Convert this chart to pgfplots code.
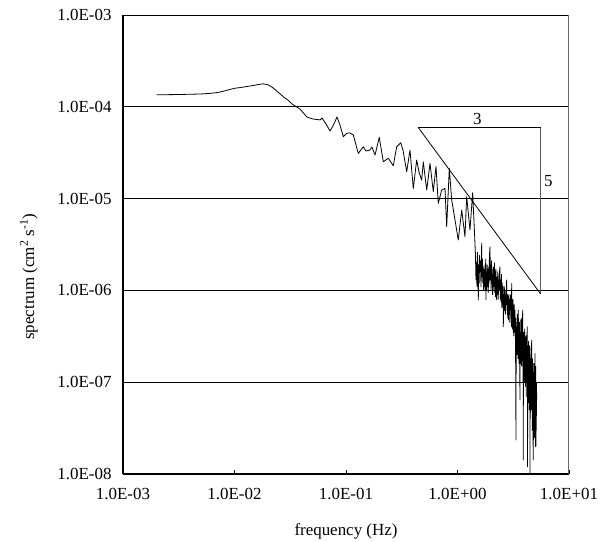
\documentclass[border=0pt]{standalone}
\usepackage{fontspec}
\setmainfont{Liberation Serif}
\usepackage{pgfplots}
\pgfplotsset{compat=1.18}
\begin{document}
\begin{tikzpicture}
\path[use as bounding box] (-123bp,-68bp) rectangle (487bp,474bp);
\begin{axis}[
  scale only axis,
  width=446bp, height=459bp,
  xmode=log, ymode=log,
  xmin=1e-3, xmax=1e1, ymin=1e-8, ymax=1e-3,
  axis x line*=bottom, axis y line*=left,
  axis line style={black, line width=1.1bp},
  xtick={1e-3,1e-2,1e-1,1e0,1e1},
  xticklabels={1.0E-03,1.0E-02,1.0E-01,1.0E+00,1.0E+01},
  ytick={1e-8,1e-7,1e-6,1e-5,1e-4,1e-3},
  yticklabels={1.0E-08,1.0E-07,1.0E-06,1.0E-05,1.0E-04,1.0E-03},
  xminorticks=false, yminorticks=false,
  log ticks with fixed point=false,
  tick align=inside,
  major tick length=4bp,
  tick style={black, line width=0.8bp},
  ymajorgrids,
  major grid style={black, line width=0.8bp},
  ticklabel style={font=\fontsize{17}{19}\selectfont},
  xticklabel style={yshift=-11bp},
  yticklabel style={xshift=-8bp},
  xlabel={frequency (Hz)},
  ylabel={spectrum (cm\textsuperscript{2} s\textsuperscript{-1})},
  label style={font=\fontsize{17}{19}\selectfont},
  xlabel style={at={(axis description cs:0.5,-0.125)}, anchor=center},
  ylabel style={at={(axis description cs:-0.211,0.43)}, anchor=center},
  clip=true,
]
\draw[gray!80!black, line width=1bp] (rel axis cs:1,0) -- (rel axis cs:1,1);
\addplot[black, line width=0.8bp, line join=round] coordinates {
(0.002,1.35e-4) (0.003,1.36e-4) (0.004,1.37e-4) (0.005,1.38e-4) (0.006,1.40e-4)
(0.007,1.43e-4) (0.008,1.48e-4) (0.009,1.54e-4) (0.010,1.59e-4) (0.012,1.64e-4)
(0.014,1.69e-4) (0.016,1.74e-4) (0.018,1.78e-4) (0.020,1.74e-4) (0.022,1.62e-4)
(0.025,1.42e-4) (0.028,1.26e-4) (0.030,1.19e-4) (0.033,1.07e-4)
(0.036,1.00e-4) (0.0386,9.46e-5) (0.0447,7.74e-5) (0.0506,7.36e-5) (0.0585,7.2e-5)
(0.0610,7.55e-5) (0.0662,6.5e-5) (0.0720,5.45e-5) (0.078,6.5e-5) (0.083,7.74e-5)
(0.0883,6.34e-5) (0.0946,4.72e-5) (0.1014,5.14e-5) (0.1086,5.2e-5) (0.1163,4.93e-5)
(0.1289,3.11e-5) (0.1429,3.67e-5) (0.151,3.30e-5) (0.1641,3.38e-5) (0.171,3.65e-5)
(0.182,2.98e-5) (0.1989,4.65e-5) (0.2161,2.52e-5) (0.2395,2.75e-5) (0.2655,2.28e-5)
(0.285,3.67e-5) (0.3095,4.06e-5) (0.3245,3.38e-5) (0.3503,1.96e-5) (0.375,3.38e-5)
(0.4014,1.29e-5) (0.4305,2.63e-5) (0.4516,1.95e-5) (0.4775,1.59e-5) (0.4934,2.52e-5)
(0.5296,1.24e-5) (0.5667,2.42e-5) (0.6067,1.19e-5) (0.6414,2.23e-5) (0.6727,8.89e-6)
(0.7215,1.24e-5) (0.7727,1.29e-5) (0.800,4.94e-6) (0.8444,2.14e-5) (0.887,9.66e-6)
(0.950,5.85e-6) (1.016,3.54e-6) (1.091,7.52e-6) (1.167,3.85e-6) (1.209,1.05e-5)
(1.294,4.55e-6) (1.368,1.16e-5) (1.435,3.26e-6)
(1.45,2.4e-6) (1.465,1.3e-6) (1.48,2.0e-6) (1.495,1.1e-6) (1.51,2.6e-6)
(1.525,1.5e-6) (1.537,7.86e-7) (1.55,1.9e-6) (1.565,1.2e-6) (1.58,2.4e-6)
(1.595,1.6e-6) (1.61,2.1e-6) (1.625,1.1e-6) (1.64,2.0e-6) (1.648,3.26e-6)
(1.66,1.4e-6) (1.675,2.2e-6) (1.69,1.2e-6) (1.703,1.81e-6) (1.715,1.0e-6)
(1.73,1.7e-6) (1.745,1.1e-6) (1.765,1.9e-6) (1.78,1.0e-6) (1.79,2.2e-6)
(1.80,7.86e-7) (1.815,1.6e-6) (1.83,1.0e-6) (1.845,1.9e-6) (1.86,1.1e-6)
(1.875,1.7e-6) (1.888,9.5e-7) (1.905,1.8e-6) (1.92,1.2e-6) (1.935,2.4e-6)
(1.957,2.99e-6) (1.97,1.3e-6) (1.985,1.9e-6) (2.00,1.0e-6) (2.02,2.1e-6)
(2.035,1.2e-6) (2.05,1.7e-6) (2.065,9e-7) (2.08,1.5e-6) (2.094,1.0e-6)
(2.11,1.8e-6) (2.13,1.1e-6) (2.145,2.0e-6) (2.16,9.5e-7) (2.18,1.6e-6)
(2.195,8.5e-7) (2.21,1.7e-6) (2.23,1.0e-6) (2.247,7.86e-7) (2.265,1.4e-6)
(2.28,9e-7) (2.30,1.6e-6) (2.32,8e-7) (2.34,1.3e-6) (2.36,1.0e-6)
(2.38,1.6e-6) (2.405,1.81e-6) (2.42,8e-7) (2.44,1.3e-6) (2.46,7.5e-7)
(2.48,1.5e-6) (2.50,6.5e-7) (2.52,1.2e-6) (2.54,7e-7) (2.56,1.1e-6)
(2.576,4.02e-7) (2.595,9e-7) (2.61,6e-7) (2.63,1.1e-6) (2.65,6e-7)
(2.67,9e-7) (2.69,5.5e-7) (2.71,1.0e-6) (2.73,7e-7) (2.761,1.30e-6)
(2.78,6e-7) (2.80,9e-7) (2.82,5e-7) (2.84,8.5e-7) (2.87,4.8e-7)
(2.89,9e-7) (2.91,4.5e-7) (2.935,8e-7) (2.958,6.12e-7)
(3.00,9e-7) (3.015,4.5e-7) (3.03,7.5e-7) (3.045,4e-7) (3.062,1.19e-6)
(3.08,4.5e-7) (3.10,7e-7) (3.12,3.8e-7) (3.14,8e-7) (3.16,3.5e-7)
(3.18,6.5e-7) (3.20,3.2e-7) (3.22,7e-7) (3.25,3.5e-7) (3.28,6.12e-7)
(3.30,3e-7) (3.31,5e-7) (3.347,2.35e-8) (3.36,4e-7) (3.38,2.2e-7)
(3.396,4.5e-7) (3.41,2.0e-7) (3.43,5.5e-7) (3.45,2.5e-7) (3.47,4.5e-7)
(3.49,1.8e-7) (3.51,6.12e-7) (3.53,2.2e-7) (3.55,4e-7) (3.57,1.6e-7)
(3.59,4.5e-7) (3.61,2e-7) (3.636,6.4e-8) (3.65,3.5e-7) (3.67,1.90e-7)
(3.70,4.8e-7) (3.72,1.6e-7) (3.74,3.5e-7) (3.76,1.5e-7) (3.78,5e-7)
(3.80,1.8e-7) (3.82,4e-7) (3.845,6.12e-7) (3.86,1.7e-7) (3.875,3.5e-7)
(3.89,1.42e-8) (3.905,3e-7) (3.92,1.3e-7) (3.94,3.5e-7) (3.96,1.2e-7)
(3.98,3e-7) (4.00,1.0e-7) (4.015,3.8e-7) (4.032,1.5e-7) (4.05,2.8e-7)
(4.07,9e-8) (4.085,3e-7) (4.10,1.1e-7) (4.12,3.2e-7) (4.14,7e-8)
(4.16,2.5e-7) (4.18,1e-7) (4.20,3e-7) (4.227,4.02e-7) (4.24,8e-8)
(4.25,1.2e-8) (4.265,2.5e-7) (4.28,9e-8) (4.30,2.2e-7) (4.32,6e-8)
(4.34,2.8e-7) (4.36,8e-8) (4.38,2.2e-7) (4.40,5e-8) (4.42,2.5e-7)
(4.44,7e-8) (4.455,2.0e-7) (4.467,1.03e-8) (4.48,1.5e-7) (4.50,4e-8)
(4.52,1.8e-7) (4.54,5e-8) (4.56,2.4e-7) (4.58,6e-8) (4.60,2.0e-7)
(4.63,2.88e-7) (4.645,5e-8) (4.66,1.6e-7) (4.68,3e-8) (4.70,1.8e-7)
(4.72,5e-8) (4.74,1.3e-7) (4.76,2.5e-8) (4.786,1.42e-8) (4.80,8.93e-8)
(4.82,2.5e-8) (4.84,1.6e-7) (4.86,4e-8) (4.88,1.2e-7) (4.90,2.5e-8)
(4.92,1.2e-7) (4.94,4e-8) (4.955,2.06e-7) (4.97,3e-8) (4.99,1.2e-7)
(5.01,2e-8) (5.03,1.48e-7) (5.05,2e-8) (5.07,9e-8) (5.09,3e-8)
(5.11,1.0e-7) (5.13,6.4e-8)
};
\addplot[black, line width=0.8bp] coordinates {(0.445,5.95e-5) (5.57,5.95e-5)};
\addplot[gray!70!black, line width=0.8bp] coordinates {(5.57,5.95e-5) (5.57,9.14e-7)};
\addplot[black, line width=0.8bp] coordinates {(0.445,5.95e-5) (5.57,9.14e-7)};
\node[font=\fontsize{17}{19}\selectfont] at (axis cs:1.505,7.31e-5) {3};
\node[font=\fontsize{17}{19}\selectfont] at (axis cs:6.52,1.57e-5) {5};
\end{axis}
\end{tikzpicture}
\end{document}
